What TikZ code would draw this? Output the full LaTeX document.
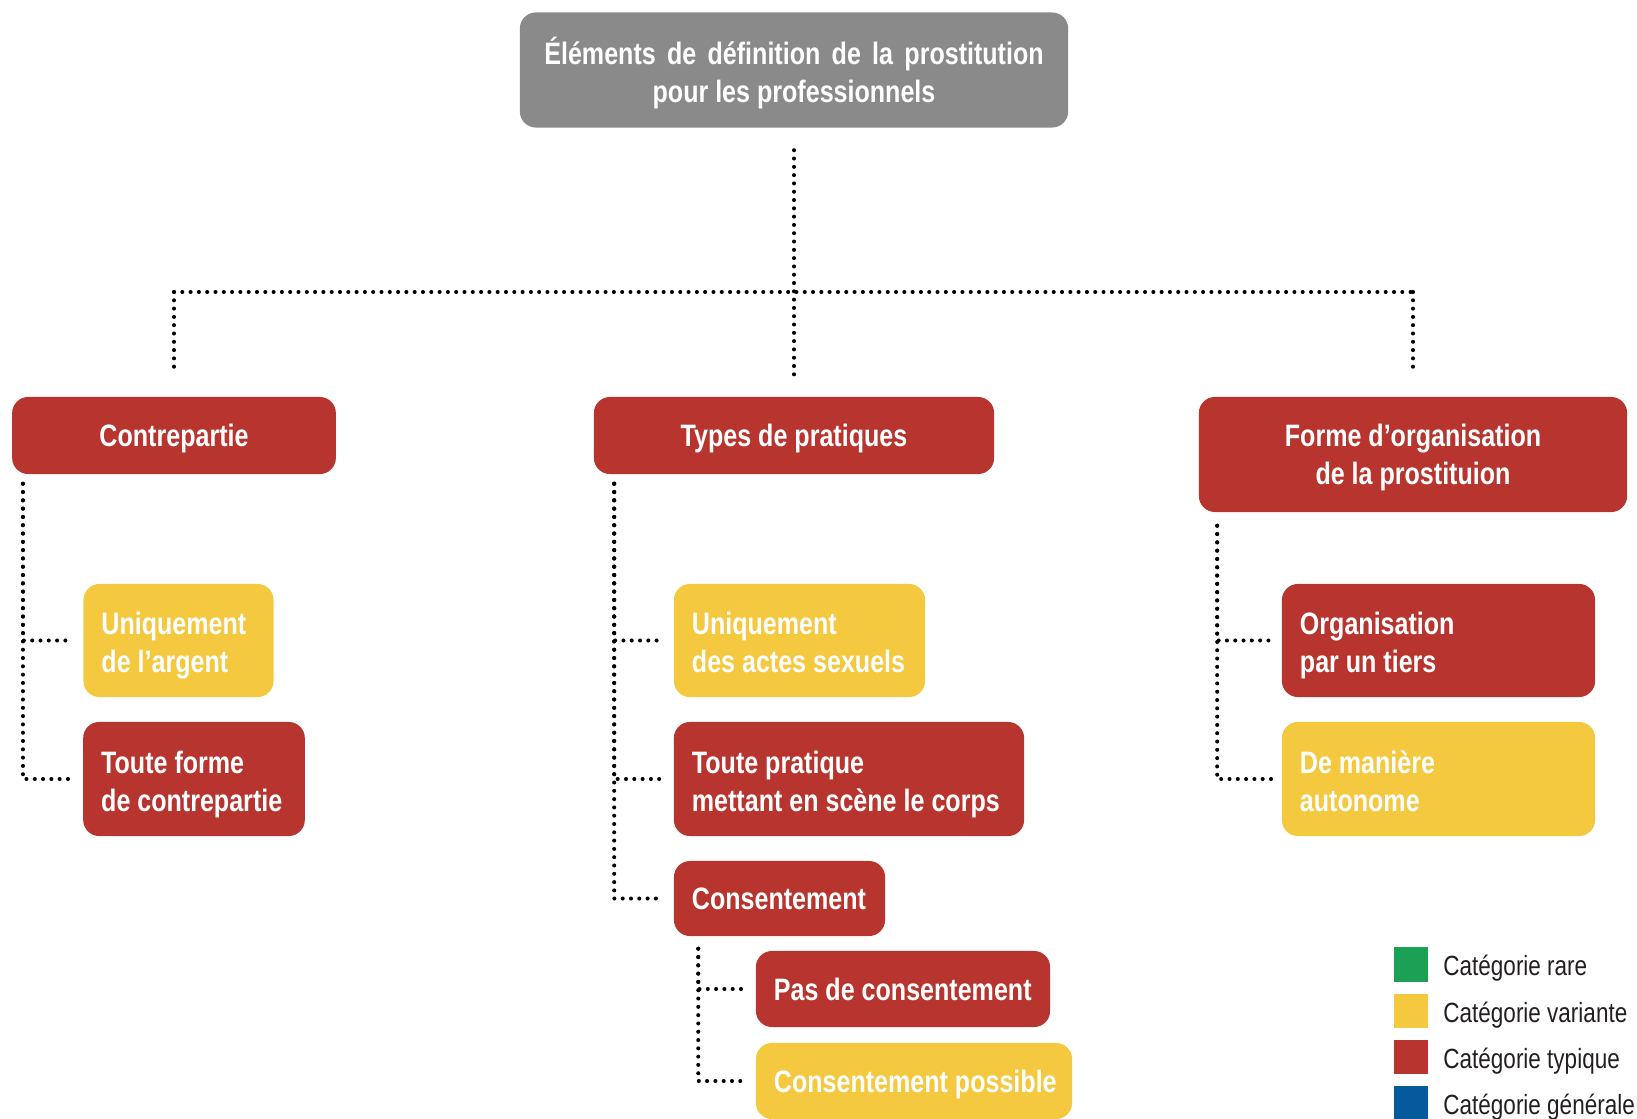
\documentclass[tikz,border=0pt]{standalone}
\usepackage{fontspec}
\setmainfont{Liberation Sans}[FakeStretch=0.81]
\usetikzlibrary{positioning,calc}
\definecolor{typred}{HTML}{B7352E}
\definecolor{varyel}{HTML}{F4C940}
\definecolor{rargreen}{HTML}{1BA055}
\definecolor{genblue}{HTML}{045A9A}
\definecolor{topgray}{HTML}{8A8A8A}
\definecolor{legtext}{HTML}{231F20}

\begin{document}
\begin{tikzpicture}[x=0.01cm, y=-0.01cm, line cap=round, line join=round]
				\useasboundingbox (0,0) rectangle (1637,1119);
				\tikzset{
					box/.style={rounded corners=1.6mm, text=white, inner ysep=0pt, text depth=0pt,
						font=\fontsize{8.8}{10.8}\selectfont\bfseries},
					head/.style={box, fill=typred, inner xsep=0pt, align=flush center},
					cat/.style={box, inner xsep=1.8mm, align=flush left},
					twoline/.style={text depth=9.7pt},
					dotline/.style={black, line width=1.15pt, dash pattern=on 0pt off 2.36pt},
					legsq/.style={minimum size=3.4mm, inner sep=0pt},
					legtxt/.style={inner sep=0pt, text=legtext, anchor=west,
						font=\fontsize{7.9}{9.5}\selectfont}
				}
				
				% ---- racine ----
				\node[box, fill=topgray, inner xsep=0pt, align=flush center,
					minimum width=5.48cm, minimum height=1.15cm] (top) at (794,70)
					{\makebox[4.99cm][s]{Éléments de définition de la prostitution}\\pour les professionnels};
				
				% ---- trois catégories ----
				\node[head, minimum width=3.235cm, minimum height=0.77cm] (contre) at (174,435.5) {Contrepartie};
				\node[head, minimum width=4.00cm, minimum height=0.77cm] (types) at (794,435.5) {Types de pratiques};
				\node[head, minimum width=4.28cm, minimum height=1.15cm] (forme) at (1413,454.5)
					{Forme d’organisation\\de la prostituion};
				
				% ---- sous-catégories ----
				\node[cat, twoline, fill=varyel, text width=1.54cm, minimum height=1.13cm] (arg) at (178.5,640.5)
					{Uniquement\\de l’argent};
				\node[cat, twoline, fill=typred, text width=1.855cm, minimum height=1.14cm] (tout) at (194,779)
					{Toute forme\\de contrepartie};
				
				\node[cat, twoline, fill=varyel, text width=2.15cm, minimum height=1.13cm] (actes) at (799.5,640.5)
					{Uniquement\\\mbox{des actes sexuels}};
				\node[cat, twoline, fill=typred, text width=3.14cm, minimum height=1.14cm] (corps) at (849,779)
					{Toute pratique\\\mbox{mettant en scène le corps}};
				\node[cat, fill=typred, text width=1.75cm, minimum height=0.75cm] (cons) at (779.5,898.5)
					{Consentement};
				\node[cat, fill=typred, text width=2.58cm, minimum height=0.76cm] (pas) at (903,989)
					{\mbox{Pas de consentement}};
				\node[cat, fill=varyel, text width=2.80cm, minimum height=0.76cm] (poss) at (914,1081)
					{\mbox{Consentement possible}};
				
				\node[cat, twoline, fill=typred, text width=2.77cm, minimum height=1.13cm] (tiers) at (1438.5,640.5)
					{Organisation\\par un tiers};
				\node[cat, twoline, fill=varyel, text width=2.77cm, minimum height=1.14cm] (auto) at (1438.5,779)
					{De manière\\autonome};
				
				% ---- liens en pointillés ----
				\coordinate (bus) at (796,292);
				\draw[dotline, shorten <=2.2mm, shorten >=2.1mm] (top.south) -- (types.north);
				\draw[dotline] (bus -| contre.north) -- (bus -| forme.north);
				\draw[dotline, shorten >=2.3mm] (bus -| contre.north) -- (contre.north);
				\draw[dotline, shorten >=2.3mm] (bus -| forme.north) -- (forme.north);
				
				\coordinate (contrefoot) at ([xshift=1.15mm, yshift=-0.9mm]contre.south west);
				\draw[dotline, shorten >=1mm] (contrefoot) |- (arg.west);
				\draw[dotline, shorten >=1mm] (contrefoot) |- (tout.west);
				
				\coordinate (typesfoot) at ([xshift=2.1mm, yshift=-0.9mm]types.south west);
				\draw[dotline, shorten >=1mm] (typesfoot) |- (actes.west);
				\draw[dotline, shorten >=1mm] (typesfoot) |- (corps.west);
				\draw[dotline, shorten >=1mm] (typesfoot) |- (cons.west);
				
				\coordinate (consfoot) at ([xshift=2.5mm, yshift=-1.2mm]cons.south west);
				\draw[dotline, shorten >=1mm] (consfoot) |- (pas.west);
				\draw[dotline, shorten >=1mm] (consfoot) |- (poss.west);
				
				\coordinate (formefoot) at ([xshift=1.9mm, yshift=-1.3mm]forme.south west);
				\draw[dotline, shorten >=1mm] (formefoot) |- (tiers.west);
				\draw[dotline, shorten >=1mm] (formefoot) |- (auto.west);
				
				% ---- légende ----
				\foreach \col/\txt [count=\i] in {rargreen/Catégorie rare, varyel/Catégorie variante,
						typred/Catégorie typique, genblue/Catégorie générale} {
					\node[legsq, fill=\col] (sq\i) at (1411,{964.5+46.3*(\i-1)}) {};
					\node[legtxt, right=1.4mm of sq\i, yshift=-0.4mm] (lab\i) {\txt};
				}
			\end{tikzpicture}
\end{document}
